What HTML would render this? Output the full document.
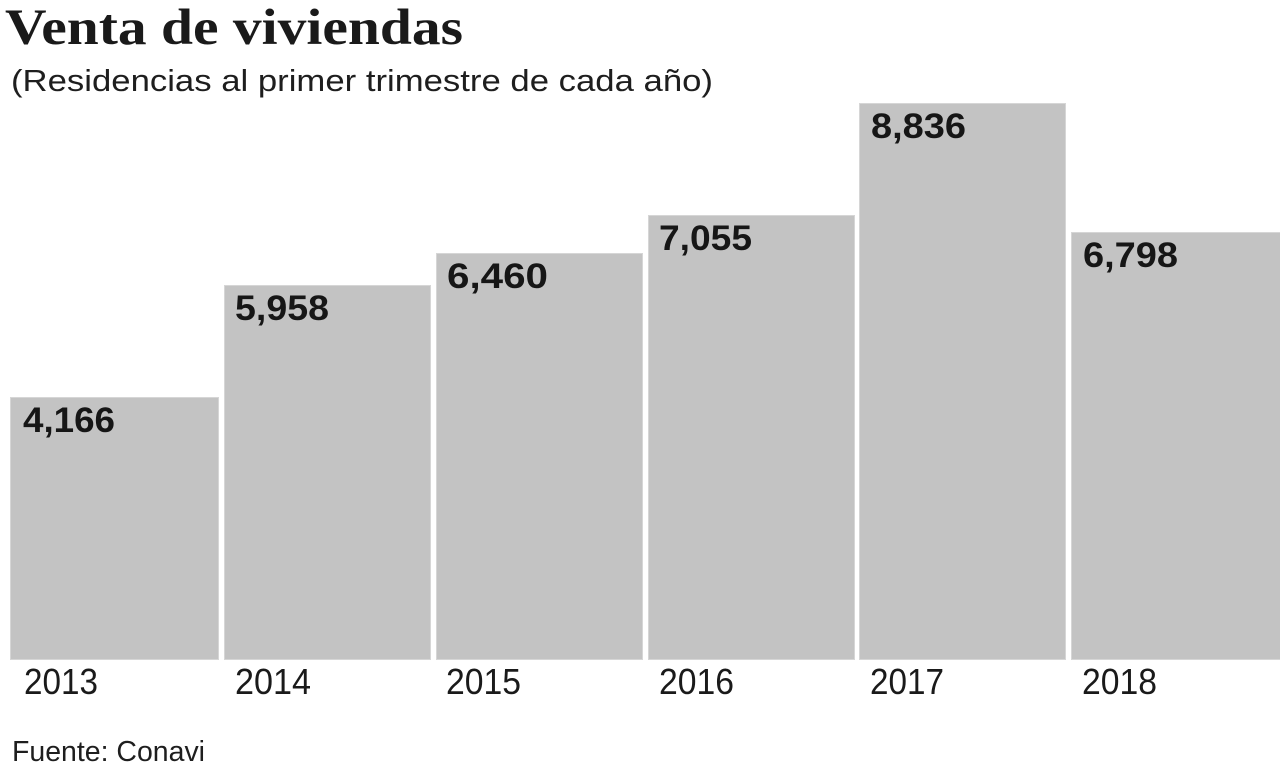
<!DOCTYPE html>
<html>
<head>
<meta charset="utf-8">
<style>
  html, body { margin: 0; padding: 0; background: #ffffff; }
  svg { display: block; }
</style>
</head>
<body>
<svg width="1280" height="769" viewBox="0 0 1280 769" xmlns="http://www.w3.org/2000/svg">
  <rect x="0" y="0" width="1280" height="769" fill="#ffffff"/>
  <!-- Title -->
  <text x="5" y="44" font-family="Liberation Serif, serif" font-weight="bold" font-size="51" fill="#1a1a1a" textLength="458" lengthAdjust="spacingAndGlyphs">Venta de viviendas</text>
  <text x="11" y="91" font-family="Liberation Sans, sans-serif" font-size="31" fill="#1e1e1e" textLength="702" lengthAdjust="spacingAndGlyphs">(Residencias al primer trimestre de cada año)</text>

  <!-- Bars -->
  <g fill="#c3c3c3" stroke="#d6d6d6" stroke-width="1">
    <rect x="10.5" y="397.5" width="208" height="262"/>
    <rect x="224.5" y="285.5" width="206" height="374"/>
    <rect x="436.5" y="253.5" width="206" height="406"/>
    <rect x="648.5" y="215.5" width="206" height="444"/>
    <rect x="859.5" y="103.5" width="206" height="556"/>
    <rect x="1071.5" y="232.5" width="210" height="427"/>
  </g>

  <!-- Values -->
  <g font-family="Liberation Sans, sans-serif" font-weight="bold" font-size="35" fill="#161616">
    <text x="23" y="432" textLength="92" lengthAdjust="spacingAndGlyphs">4,166</text>
    <text x="235" y="320" textLength="94" lengthAdjust="spacingAndGlyphs">5,958</text>
    <text x="447" y="288" textLength="101" lengthAdjust="spacingAndGlyphs">6,460</text>
    <text x="659" y="250" textLength="93" lengthAdjust="spacingAndGlyphs">7,055</text>
    <text x="871" y="138" textLength="95" lengthAdjust="spacingAndGlyphs">8,836</text>
    <text x="1083" y="267" textLength="95" lengthAdjust="spacingAndGlyphs">6,798</text>
  </g>

  <!-- Years -->
  <g font-family="Liberation Sans, sans-serif" font-size="36" fill="#1a1a1a">
    <text x="24" y="694" textLength="74" lengthAdjust="spacingAndGlyphs">2013</text>
    <text x="235" y="694" textLength="76" lengthAdjust="spacingAndGlyphs">2014</text>
    <text x="446" y="694" textLength="75" lengthAdjust="spacingAndGlyphs">2015</text>
    <text x="659" y="694" textLength="75" lengthAdjust="spacingAndGlyphs">2016</text>
    <text x="870" y="694" textLength="74" lengthAdjust="spacingAndGlyphs">2017</text>
    <text x="1082" y="694" textLength="75" lengthAdjust="spacingAndGlyphs">2018</text>
  </g>

  <!-- Source -->
  <text x="12" y="761" font-family="Liberation Sans, sans-serif" font-size="29" fill="#1e1e1e" textLength="193" lengthAdjust="spacingAndGlyphs">Fuente: Conavi</text>
</svg>
</body>
</html>
